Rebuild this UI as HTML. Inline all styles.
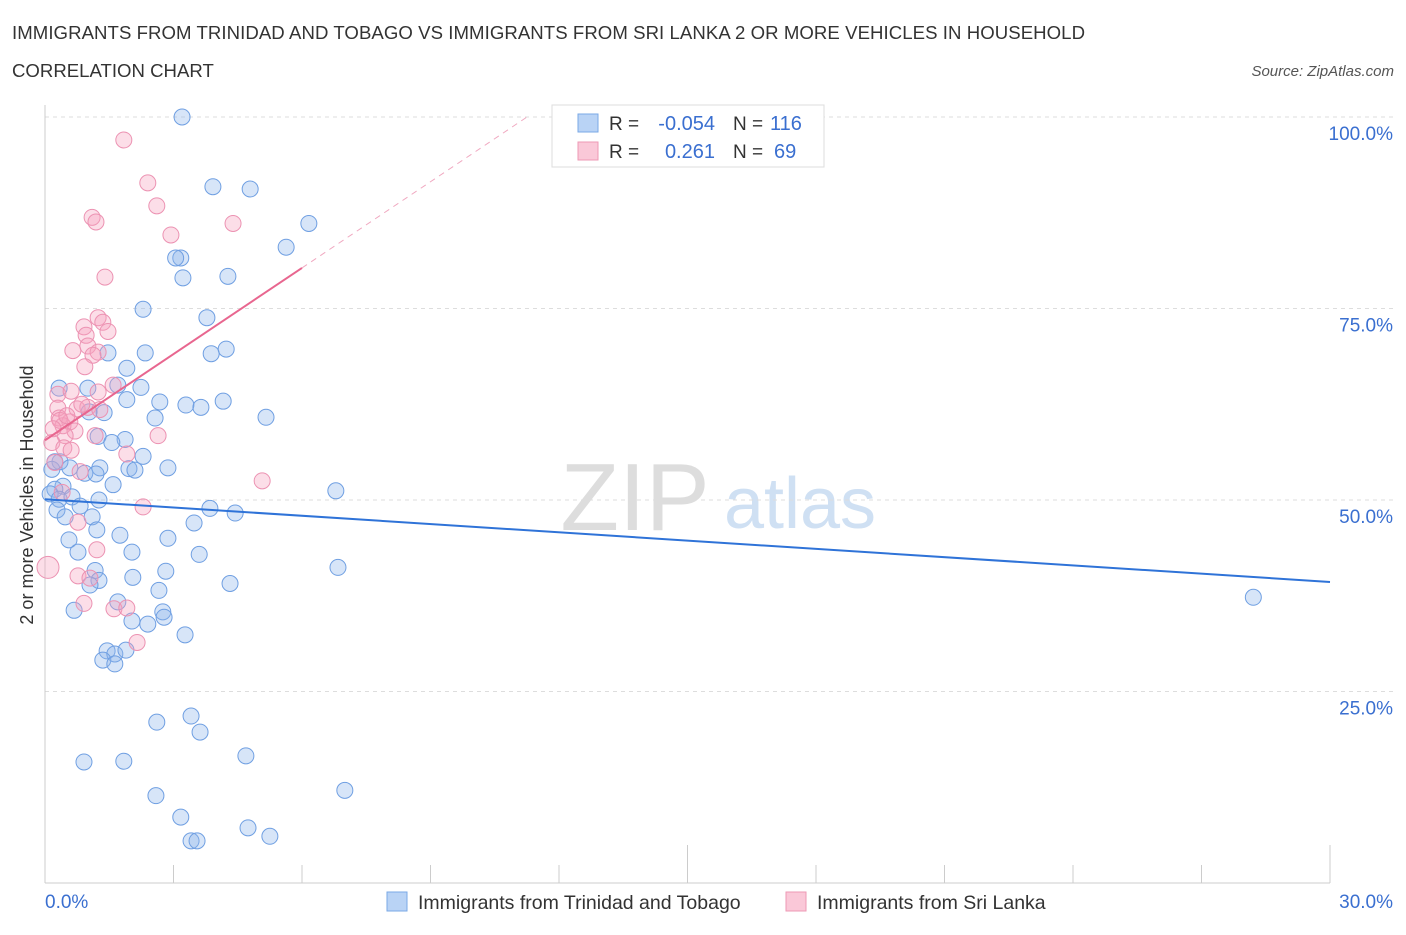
<!DOCTYPE html>
<html><head><meta charset="utf-8"><style>
body{margin:0;background:#fff;font-family:"Liberation Sans",sans-serif;}
svg text{font-family:"Liberation Sans",sans-serif;}
</style></head><body>
<svg id="c" width="1406" height="930">
<text x="12" y="39" font-size="18.6" fill="#333" textLength="1073">IMMIGRANTS FROM TRINIDAD AND TOBAGO VS IMMIGRANTS FROM SRI LANKA 2 OR MORE VEHICLES IN HOUSEHOLD</text>
<text x="12" y="77" font-size="18.6" fill="#333">CORRELATION CHART</text>
<text x="1394" y="76" font-size="15" fill="#555" font-style="italic" text-anchor="end">Source: ZipAtlas.com</text>
<text x="635" y="530" font-size="96" fill="#ddd" font-family="Liberation Serif,serif" text-anchor="middle">ZIP</text>
<text x="800" y="528" font-size="72" fill="#cfe0f3" text-anchor="middle">atlas</text>
<g id="grid"></g><g id="marks"></g>
<text transform="translate(33,495) rotate(-90)" font-size="18" fill="#333" text-anchor="middle">2 or more Vehicles in Household</text>
<g>
<rect x="552" y="105" width="272" height="62" fill="#fff" stroke="#ddd"/>
<rect x="578" y="114" width="20" height="18" fill="#b9d3f5" stroke="#7aa8e6"/>
<rect x="578" y="142" width="20" height="18" fill="#fac8d8" stroke="#ee99b5"/>
<text x="609" y="130" font-size="19" fill="#333">R =</text>
<text x="715" y="130" font-size="20" fill="#3a6fd0" text-anchor="end">-0.054</text>
<text x="733" y="130" font-size="19" fill="#333">N =</text>
<text x="770" y="130" font-size="20" fill="#3a6fd0">116</text>
<text x="609" y="158" font-size="19" fill="#333">R =</text>
<text x="715" y="158" font-size="20" fill="#3a6fd0" text-anchor="end">0.261</text>
<text x="733" y="158" font-size="19" fill="#333">N =</text>
<text x="774" y="158" font-size="20" fill="#3a6fd0">69</text>
</g>
<g>
<rect x="387" y="892" width="20" height="19" fill="#b9d3f5" stroke="#7aa8e6"/>
<text x="418" y="909" font-size="19.5" fill="#333">Immigrants from Trinidad and Tobago</text>
<rect x="786" y="892" width="20" height="19" fill="#fac8d8" stroke="#ee99b5"/>
<text x="817" y="909" font-size="19.5" fill="#333">Immigrants from Sri Lanka</text>
</g>
</svg>
<script>
const blueX=[3.20,3.92,4.79,6.16,5.63,3.17,3.05,3.22,4.27,2.29,3.78,2.34,1.47,3.88,4.23,1.91,1.70,2.24,0.33,1.00,1.91,2.68,3.29,3.64,4.16,5.16,2.57,1.03,1.38,1.24,1.87,1.56,2.29,0.35,0.58,0.16,0.23,1.28,1.96,2.10,0.93,1.19,2.87,1.59,0.42,0.23,0.12,0.33,0.63,6.79,1.26,3.85,0.82,0.28,0.47,1.10,4.44,3.48,1.21,1.75,0.56,2.87,2.03,0.77,3.60,1.17,2.82,2.05,1.26,4.32,1.05,6.84,2.66,1.70,0.68,2.75,2.78,2.40,2.03,3.27,1.45,1.63,1.89,1.35,1.63,2.61,3.41,3.62,0.91,1.84,4.69,2.59,7.00,3.17,4.74,5.25,3.41,3.55,28.21];
const blueY=[100.0,90.9,90.6,86.1,83.0,81.6,81.6,79.0,79.2,74.9,73.8,69.2,69.2,69.1,69.7,67.2,65.0,64.7,64.6,64.6,63.1,62.8,62.4,62.1,62.9,60.8,60.7,61.5,61.4,58.3,57.9,57.5,55.7,55.0,54.2,54.0,55.0,54.2,54.1,53.9,53.5,53.4,54.2,52.0,51.8,51.4,50.8,50.1,50.4,51.2,50.0,48.9,49.2,48.7,47.8,47.8,48.3,47.0,46.1,45.4,44.8,45.0,43.2,43.2,42.9,40.8,40.7,39.9,39.5,39.1,38.9,41.2,38.2,36.7,35.6,35.4,34.7,33.8,34.2,32.4,30.3,29.9,30.4,29.1,28.6,21.0,21.8,19.7,15.8,15.9,16.6,11.4,12.1,8.6,7.2,6.1,5.5,5.5,37.3];
const pinkX=[1.84,2.40,2.61,1.10,1.19,2.94,4.39,1.40,1.24,0.91,1.35,1.47,0.96,0.65,1.00,1.24,1.12,0.93,1.59,0.30,0.61,1.24,0.75,1.00,1.28,0.30,0.33,0.58,0.42,0.70,0.47,1.17,2.64,0.16,0.44,0.61,1.91,0.23,0.82,5.07,0.40,2.29,0.77,1.21,0.07,0.77,1.05,0.91,1.61,1.91,2.15,0.35,0.51,0.19,0.86];
const pinkY=[97.0,91.4,88.4,86.9,86.3,84.6,86.1,79.1,73.8,72.6,73.2,72.0,71.5,69.5,70.1,69.3,68.9,67.4,65.0,63.8,64.2,64.1,61.9,62.1,61.8,62.0,60.7,60.2,59.7,59.0,58.4,58.4,58.4,57.5,56.8,56.5,56.0,54.9,53.7,52.5,51.0,49.1,47.1,43.5,41.2,40.1,39.8,36.5,35.8,35.9,31.4,60.4,61.0,59.3,62.5];
const xTicks=[0,3,6,9,12,15,18,21,24,27,30];
const yTicks=[25,50,75,100];
const blueTrend=[50.1,39.3]; // at x=0 and x=30
const pinkTrend=[57.8,80.3]; // at x=0 and x=6
const X=v=>45+v/30*1285, Y=v=>883-v*7.66;
const NS="http://www.w3.org/2000/svg";
function mk(t,a,p){const e=document.createElementNS(NS,t);for(const k in a)e.setAttribute(k,a[k]);p.appendChild(e);return e;}
const g=document.getElementById('grid'),m=document.getElementById('marks');
yTicks.forEach(v=>{
 const l=mk('line',{x1:45,x2:1395,y1:Y(v),y2:Y(v),stroke:'#ddd','stroke-dasharray':'4,4'},g);
 
 
 const t=mk('text',{x:1393,y:Y(v)+23,'font-size':19,fill:'#3a6fd0','text-anchor':'end'},g);t.textContent=v.toFixed(1)+'%';
 
 
});
const ax=mk('line',{x1:45,x2:1330,y1:883,y2:883,stroke:'#ccc'},g);


const ay=mk('line',{x1:45,x2:45,y1:105,y2:883,stroke:'#ccc'},g);


xTicks.forEach(v=>{
 const l=mk('line',{x1:X(v),x2:X(v),y1:883,y2:v%15==0?845:865,stroke:'#ccc'},g);
 
 
});
[[0,'0.0%',45,'start'],[30,'30.0%',1393,'end']].forEach(a=>{
 const t=mk('text',{x:a[2],y:908,'font-size':19,fill:'#3a6fd0','text-anchor':a[3]},g);t.textContent=a[1];
 
 
});
blueX.forEach((x,i)=>{
 const c=mk('circle',{cx:X(x),cy:Y(blueY[i]),r:8,fill:'rgba(140,180,235,0.35)',stroke:'#6f9fe2','stroke-width':1},m);
 
 
});
pinkX.forEach((x,i)=>{
 const c=mk('circle',{cx:X(x),cy:Y(pinkY[i]),r:i==44?11:8,fill:'rgba(245,160,190,0.35)',stroke:'#ec92b2','stroke-width':1},m);
 
 
});
const bl=mk('line',{x1:X(0),y1:Y(blueTrend[0]),x2:X(30),y2:Y(blueTrend[1]),stroke:'#2f73d8','stroke-width':2},m);


const slope=(pinkTrend[1]-pinkTrend[0])/6, xe=(100-pinkTrend[0])/slope;
const pd=mk('line',{x1:X(6),y1:Y(pinkTrend[1]),x2:X(xe),y2:Y(100),stroke:'#f0a8c0','stroke-width':1,'stroke-dasharray':'6,5'},m);


const pl=mk('line',{x1:X(0),y1:Y(pinkTrend[0]),x2:X(6),y2:Y(pinkTrend[1]),stroke:'#e8668f','stroke-width':2},m);


</script>
</body></html>
